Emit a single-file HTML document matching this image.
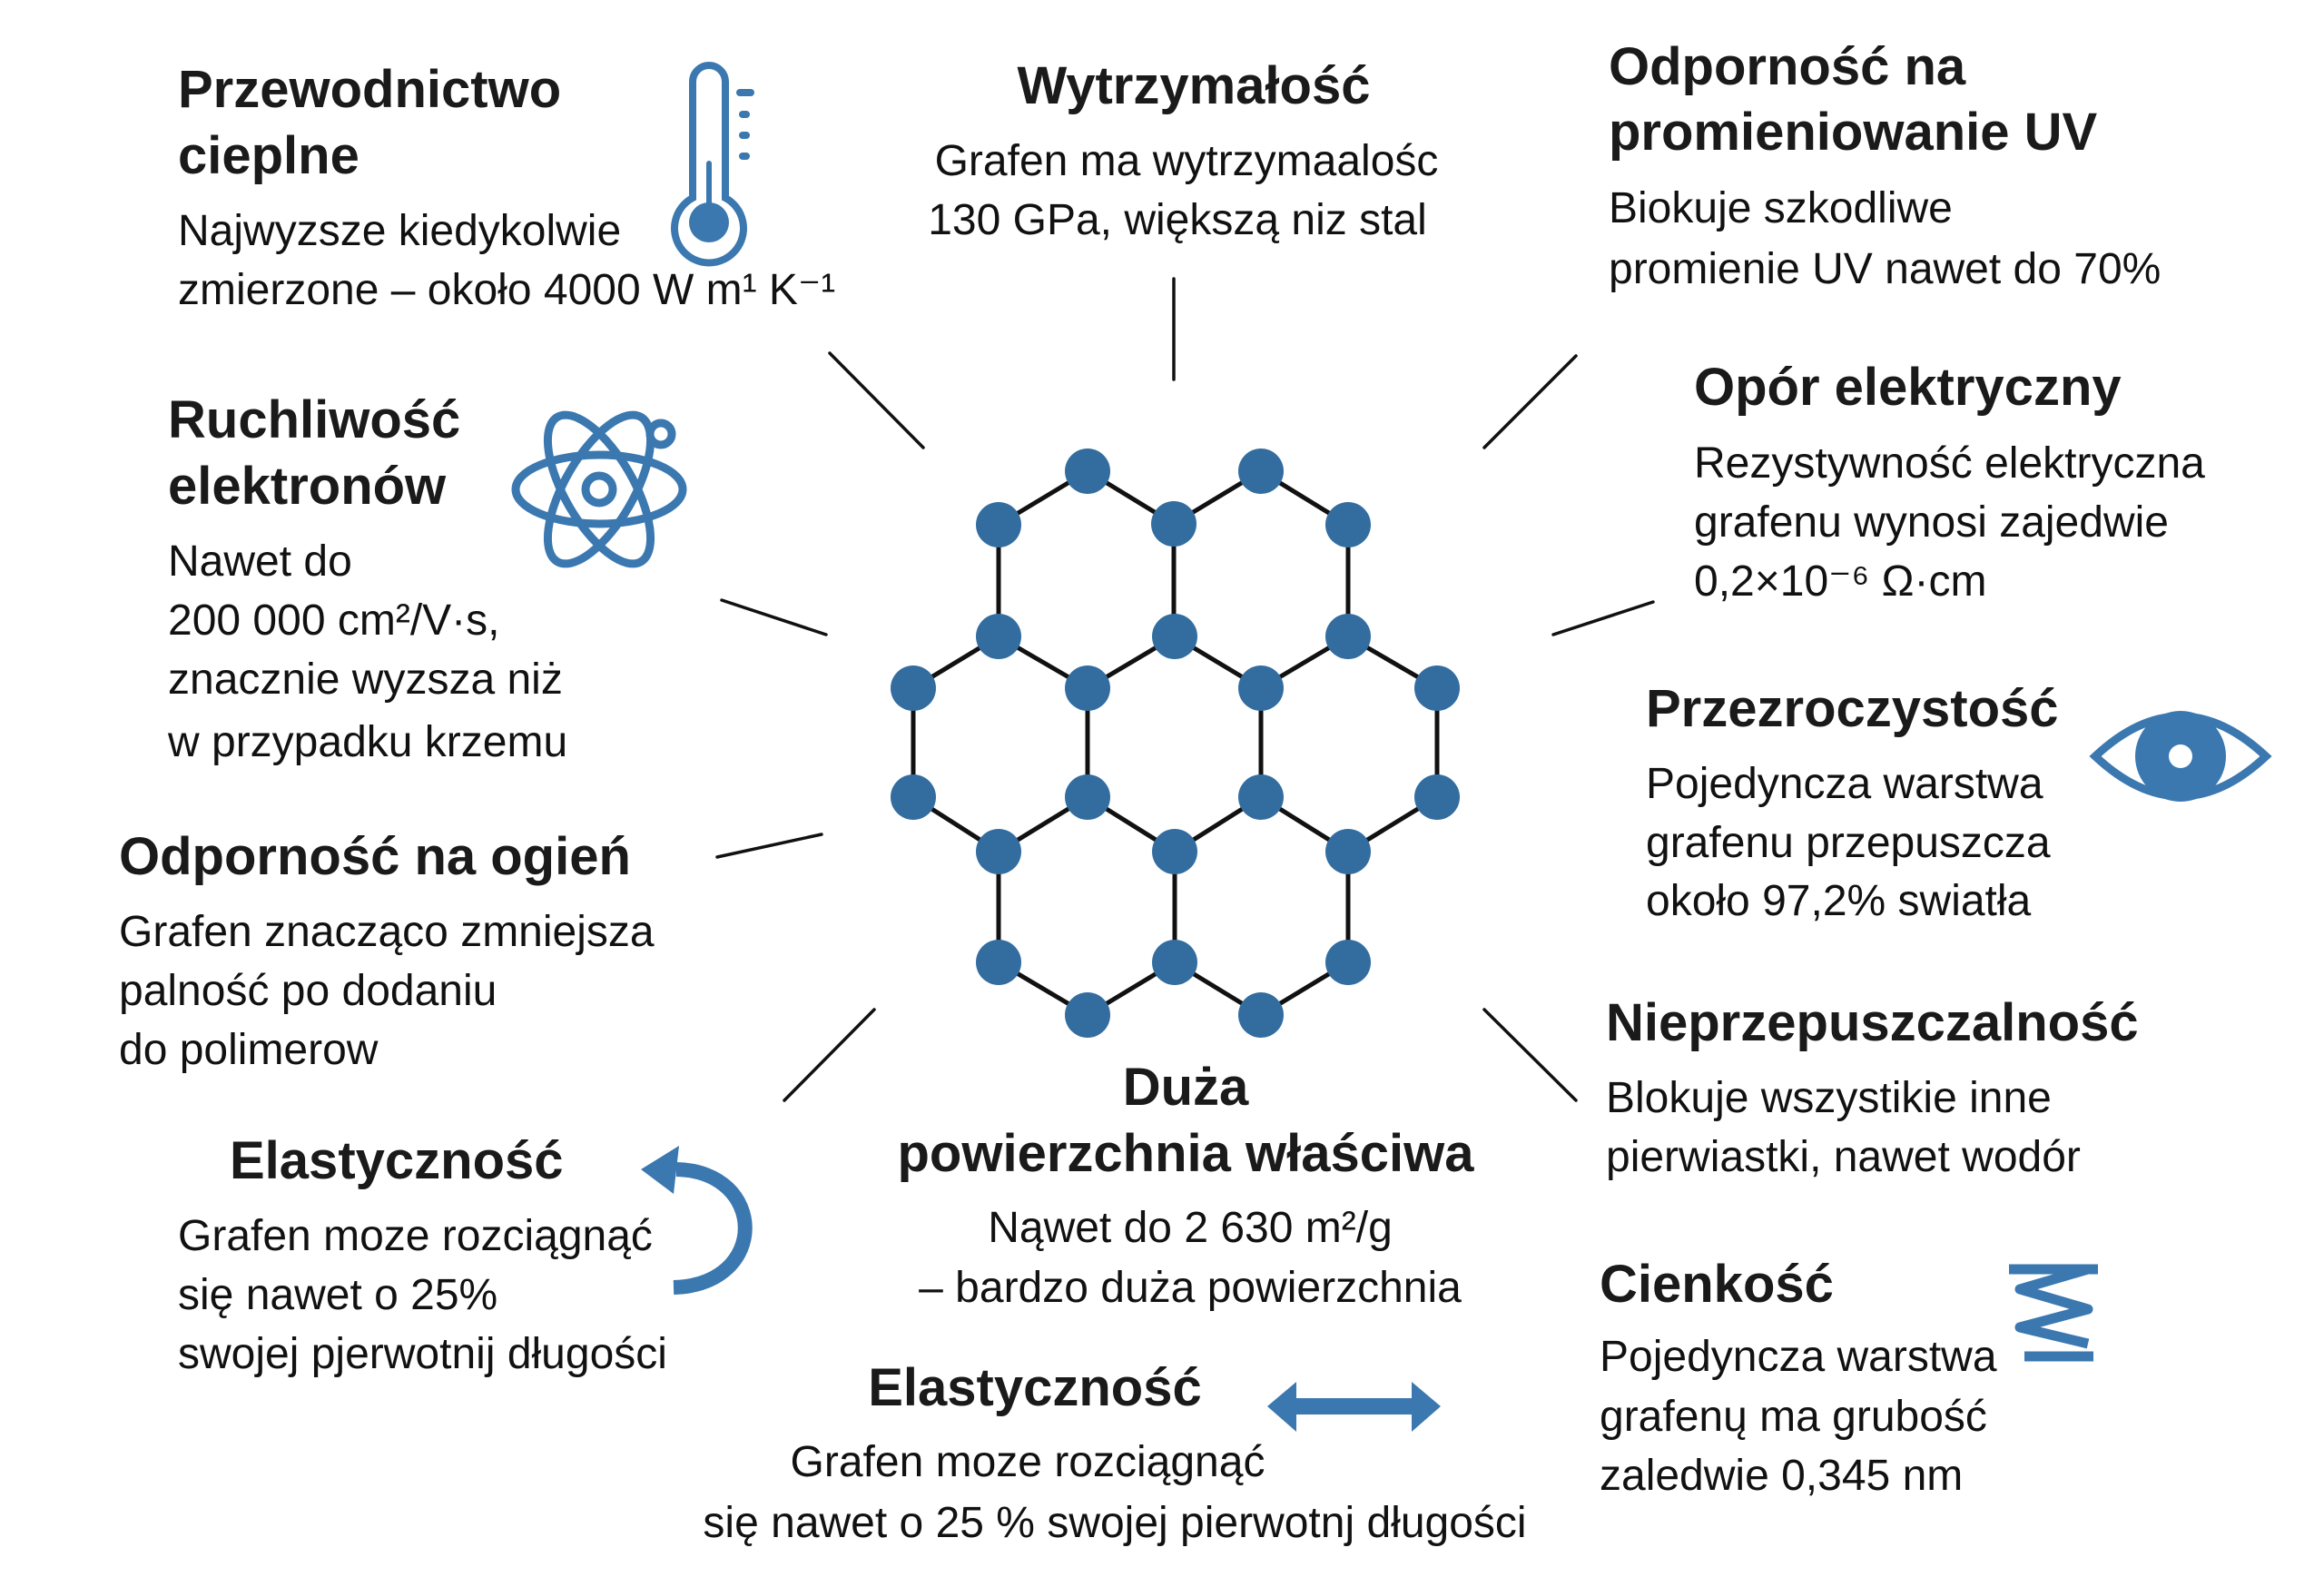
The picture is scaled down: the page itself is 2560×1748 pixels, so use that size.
<!DOCTYPE html>
<html><head><meta charset="utf-8"><style>
html,body{margin:0;padding:0;background:#fff;}
svg{display:block;}
text{font-family:"Liberation Sans",sans-serif;fill:#111;}
.t{font-size:58px;font-weight:bold;fill:#1a1a1a;}
.b{font-size:48px;}
</style></head><body>
<svg width="2560" height="1748" viewBox="0 0 2560 1748" xmlns="http://www.w3.org/2000/svg">
<g stroke="#111" stroke-width="3.5" stroke-linecap="round">
<line x1="1293" y1="307" x2="1293" y2="418"/>
<line x1="914" y1="389" x2="1017" y2="493"/>
<line x1="1736" y1="392" x2="1635" y2="493"/>
<line x1="795" y1="661" x2="910" y2="699"/>
<line x1="1821" y1="663" x2="1711" y2="699"/>
<line x1="790" y1="944" x2="905" y2="919"/>
<line x1="864" y1="1212" x2="963" y2="1112"/>
<line x1="1635" y1="1112" x2="1736" y2="1212"/>
</g>
<g stroke="#111" stroke-width="5">
<path d="M1100,578 L1198,519 L1293,577 L1389,519 L1485,578 M1100,578 V701 M1293,577 V701 M1485,578 V701
M1006,758 L1100,701 L1198,758 L1294,701 L1389,758 L1485,701 L1583,758
M1006,758 V878 M1198,758 V878 M1389,758 V878 M1583,758 V878
M1006,878 L1100,938 L1198,878 L1294,938 L1389,878 L1485,938 L1583,878
M1100,938 V1060 M1294,938 V1060 M1485,938 V1060
M1100,1060 L1198,1118 L1294,1060 L1389,1118 L1485,1060" fill="none"/>
</g>
<g fill="#336d9f">
<circle cx="1198" cy="519" r="25"/><circle cx="1389" cy="519" r="25"/>
<circle cx="1100" cy="578" r="25"/><circle cx="1293" cy="577" r="25"/><circle cx="1485" cy="578" r="25"/>
<circle cx="1100" cy="701" r="25"/><circle cx="1294" cy="701" r="25"/><circle cx="1485" cy="701" r="25"/>
<circle cx="1006" cy="758" r="25"/><circle cx="1198" cy="758" r="25"/><circle cx="1389" cy="758" r="25"/><circle cx="1583" cy="758" r="25"/>
<circle cx="1006" cy="878" r="25"/><circle cx="1198" cy="878" r="25"/><circle cx="1389" cy="878" r="25"/><circle cx="1583" cy="878" r="25"/>
<circle cx="1100" cy="938" r="25"/><circle cx="1294" cy="938" r="25"/><circle cx="1485" cy="938" r="25"/>
<circle cx="1100" cy="1060" r="25"/><circle cx="1294" cy="1060" r="25"/><circle cx="1485" cy="1060" r="25"/>
<circle cx="1198" cy="1118" r="25"/><circle cx="1389" cy="1118" r="25"/>
</g>
<!-- thermometer -->
<g stroke="#3b78b0" fill="none" stroke-width="8" stroke-linecap="round">
<path d="M763,218 V90 a18,18 0 0 1 36,0 V218 a38,38 0 1 1 -36,0 Z"/>
<line x1="781" y1="180" x2="781" y2="240" stroke-width="6"/>
<line x1="815" y1="102" x2="827" y2="102"/><line x1="818" y1="126" x2="822" y2="126"/><line x1="818" y1="149" x2="822" y2="149"/><line x1="818" y1="172" x2="822" y2="172"/>
</g>
<circle cx="781" cy="245" r="22" fill="#3b78b0"/>
<!-- atom -->
<g stroke="#3b78b0" fill="none" stroke-width="9">
<ellipse cx="660" cy="539" rx="92" ry="38"/>
<ellipse cx="660" cy="539" rx="92" ry="38" transform="rotate(60 660 539)"/>
<ellipse cx="660" cy="539" rx="92" ry="38" transform="rotate(-60 660 539)"/>
<circle cx="660" cy="539" r="15"/>
<circle cx="728" cy="478" r="12" fill="#fff"/>
</g>
<!-- eye -->
<path d="M2308,833 Q2402,745 2496,833 Q2402,921 2308,833 Z" fill="none" stroke="#3b78b0" stroke-width="9"/>
<circle cx="2402" cy="833" r="50" fill="#3b78b0"/>
<circle cx="2402" cy="833" r="13" fill="#fff"/>
<!-- curved arrow -->
<path d="M745,1288 C845,1290 848,1415 742,1418" fill="none" stroke="#3b78b0" stroke-width="16"/>
<polygon points="706,1288 748,1262 742,1315" fill="#3b78b0"/>
<!-- double arrow -->
<polygon points="1396,1549 1428,1522 1428,1540 1555,1540 1555,1522 1587,1549 1555,1577 1555,1558 1428,1558 1428,1577" fill="#3b78b0"/>
<!-- spring -->
<g stroke="#3b78b0" stroke-width="11" fill="none" stroke-linejoin="round">
<path d="M2213,1398 H2311 M2300,1398 L2225,1420 L2300,1442 L2225,1462 L2300,1480 M2230,1494 H2306"/>
</g>
<!-- texts -->
<text class="t" x="196" y="118">Przewodnictwo</text>
<text class="t" x="196" y="191">cieplne</text>
<text class="b" x="196" y="270">Najwyzsze kiedykolwie</text>
<text class="b" x="196" y="335">zmierzone – około 4000 W m¹ K⁻¹</text>

<text class="t" x="1315" y="114" text-anchor="middle">Wytrzymałość</text>
<text class="b" x="1307" y="193" text-anchor="middle">Grafen ma wytrzymaalośc</text>
<text class="b" x="1297" y="258" text-anchor="middle">130 GPa, większą niz stal</text>

<text class="t" x="1772" y="93">Odporność na</text>
<text class="t" x="1772" y="165">promieniowanie UV</text>
<text class="b" x="1772" y="245">Biokuje szkodliwe</text>
<text class="b" x="1772" y="312">promienie UV nawet do 70%</text>

<text class="t" x="1866" y="446">Opór elektryczny</text>
<text class="b" x="1866" y="526">Rezystywność elektryczna</text>
<text class="b" x="1866" y="591">grafenu wynosi zajedwie</text>
<text class="b" x="1866" y="656">0,2×10⁻⁶ Ω·cm</text>

<text class="t" x="185" y="482">Ruchliwość</text>
<text class="t" x="185" y="555">elektronów</text>
<text class="b" x="185" y="634">Nawet do</text>
<text class="b" x="185" y="699">200 000 cm²/V·s,</text>
<text class="b" x="185" y="764">znacznie wyzsza niż</text>
<text class="b" x="185" y="833">w przypadku krzemu</text>

<text class="t" x="1813" y="800">Przezroczystość</text>
<text class="b" x="1813" y="879">Pojedyncza warstwa</text>
<text class="b" x="1813" y="944">grafenu przepuszcza</text>
<text class="b" x="1813" y="1008">około 97,2% swiatła</text>

<text class="t" x="131" y="963">Odporność na ogień</text>
<text class="b" x="131" y="1042">Grafen znacząco zmniejsza</text>
<text class="b" x="131" y="1107">palność po dodaniu</text>
<text class="b" x="131" y="1172">do polimerow</text>

<text class="t" x="1769" y="1146">Nieprzepuszczalność</text>
<text class="b" x="1769" y="1225">Blokuje wszystikie inne</text>
<text class="b" x="1769" y="1290">pierwiastki, nawet wodór</text>

<text class="t" x="1306" y="1217" text-anchor="middle">Duża</text>
<text class="t" x="1306" y="1290" text-anchor="middle">powierzchnia właściwa</text>
<text class="b" x="1311" y="1368" text-anchor="middle">Nąwet do 2 630 m²/g</text>
<text class="b" x="1311" y="1434" text-anchor="middle">– bardzo duża powierzchnia</text>

<text class="t" x="253" y="1298">Elastyczność</text>
<text class="b" x="196" y="1377">Grafen moze rozciągnąć</text>
<text class="b" x="196" y="1442">się nawet o 25%</text>
<text class="b" x="196" y="1507">swojej pjerwotnij długości</text>

<text class="t" x="1762" y="1434">Cienkość</text>
<text class="b" x="1762" y="1510">Pojedyncza warstwa</text>
<text class="b" x="1762" y="1576">grafenų ma grubość</text>
<text class="b" x="1762" y="1641">zaledwie 0,345 nm</text>

<text class="t" x="1140" y="1548" text-anchor="middle">Elastyczność</text>
<text class="b" x="1132" y="1626" text-anchor="middle">Grafen moze rozciągnąć</text>
<text class="b" x="1228" y="1693" text-anchor="middle">się nawet o 25 % swojej pierwotnj długości</text>
</svg>
</body></html>
